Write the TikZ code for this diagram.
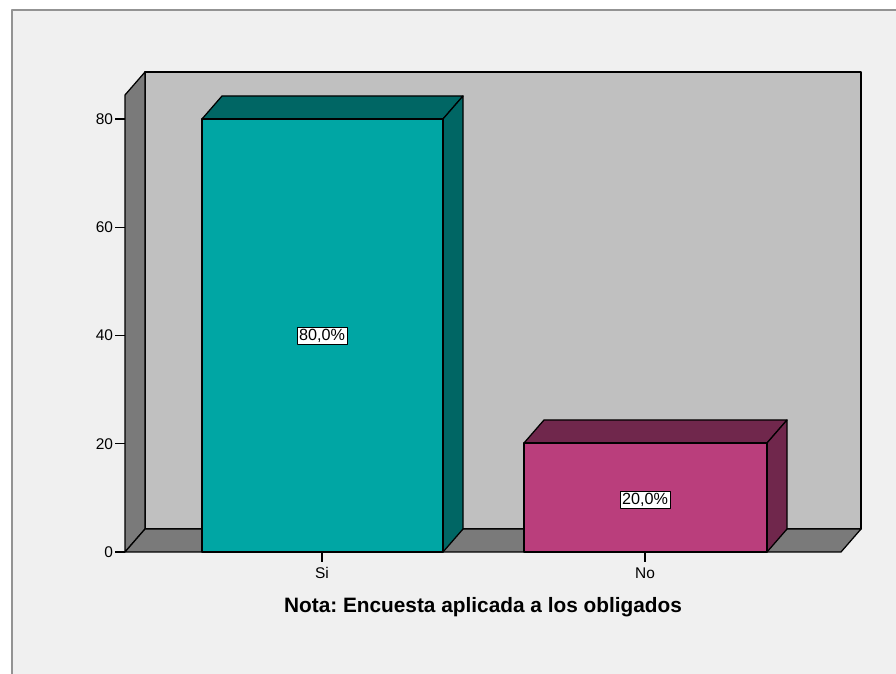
\documentclass[tikz,border=0pt]{standalone}
\usepackage{fontspec}
\setmainfont{Liberation Sans}
\usepackage{tikz}

\definecolor{siFront}{RGB}{0,166,164}
\definecolor{siDark}{RGB}{0,102,100}
\definecolor{noFront}{RGB}{186,62,124}
\definecolor{noDark}{RGB}{112,39,76}
\definecolor{wallBack}{RGB}{192,192,192}
\definecolor{wallSide}{RGB}{122,122,122}
\definecolor{panel}{RGB}{240,240,240}

% bar: left x, right x, top y, front colour, dark colour
\newcommand{\drawbar}[5]{%
  \filldraw [fill=#5] (#1,#3) -- (#1+20,#3-23) -- (#2+20,#3-23) -- (#2,#3) -- cycle;
  \filldraw [fill=#5] (#2,#3) -- (#2+20,#3-23) -- (#2+20,529) -- (#2,552) -- cycle;
  \filldraw [fill=#4] (#1,#3) rectangle (#2,552);
}

\begin{document}
\frenchspacing
\begin{tikzpicture}[x=0.025cm, y=-0.025cm, line width=0.9pt, line join=round,
  every node/.style={font=\fontsize{11}{13}\selectfont},
  pct/.style={draw, fill=white, line width=0.6pt, inner sep=1.5pt,
    font=\fontsize{11.5}{13}\selectfont}]
  \useasboundingbox (0,0) rectangle (896,674);
  \fill [white] (0,0) rectangle (896,674);
  \filldraw [fill=panel, draw=gray!85, line width=1.2pt] (12,10) rectangle (905,685);

  % walls and floor
  \filldraw [fill=wallBack] (145,72) rectangle (861,529);
  \filldraw [fill=wallSide] (125,95) -- (145,72) -- (145,529) -- (125,552) -- cycle;
  \filldraw [fill=wallSide] (125,552) -- (145,529) -- (861,529) -- (841,552) -- cycle;

  % bars
  \drawbar{202}{443}{119}{siFront}{siDark}
  \drawbar{524}{767}{443}{noFront}{noDark}

  % value axis
  \foreach \v in {0,20,...,80} {
    \draw (115,552-\v*5.4125) -- (125,552-\v*5.4125);
    \node [left, inner sep=1pt] (tick\v) at (115,552-\v*5.4125) {\v};
  }

  % categories
  \draw (322,552) -- (322,562);
  \draw (645,552) -- (645,562);
  \node (si) at (322,573) {Si};
  \node (no) at (645,573) {No};

  \node [pct] (siPct) at (322,336) {80,0\%};
  \node [pct] (noPct) at (645,500) {20,0\%};

  \node [font=\fontsize{14.8}{17}\bfseries\selectfont] (nota) at (483,607)
    {Nota: Encuesta aplicada a los obligados};
\end{tikzpicture}
\end{document}
